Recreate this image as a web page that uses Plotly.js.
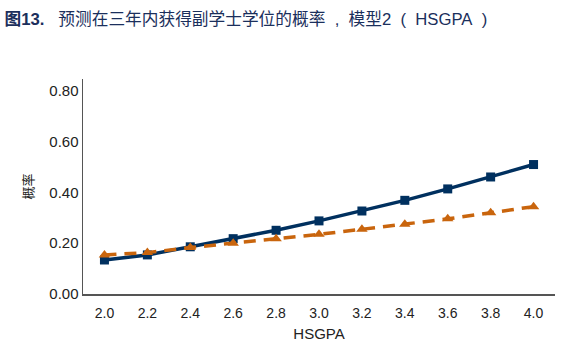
<!DOCTYPE html>
<html><head><meta charset="utf-8">
<script src="https://cdn.plot.ly/plotly-3.0.1.min.js"></script>
<style>html,body{margin:0;padding:0;background:#fff}#chart{width:572px;height:355px}</style>
</head><body><div id="chart"></div>
<script>
const categories = ["2.0","2.2","2.4","2.6","2.8","3.0","3.2","3.4","3.6","3.8","4.0"];
const seriesSolid = [0.134,0.154,0.186,0.218,0.251,0.288,0.327,0.369,0.414,0.461,0.510];
const seriesDashed = [0.154,0.163,0.183,0.200,0.218,0.235,0.255,0.275,0.296,0.320,0.344];
const yTicks = [0,0.2,0.4,0.6,0.8];
const yTickLabels = ["0.00","0.20","0.40","0.60","0.80"];

const navy = "#00305f", orange = "#c9650d";
const fam = "Liberation Sans, Arial, Noto Sans CJK SC, sans-serif";
const sp = "\u00a0";
const titleText = "<b>图13.</b>" + sp + sp + sp + "预测在三年内获得副学士学位的概率" + sp + sp + "," + sp + sp +
                  "模型2" + sp + sp + "(" + sp + sp + "HSGPA" + sp + sp + ")";
const traces = [
  {x: categories, y: seriesSolid, type: "scatter", mode: "lines+markers",
   line: {color: navy, width: 3.5}, marker: {symbol: "square", size: 9, color: navy}, cliponaxis: false},
  {x: categories, y: seriesDashed, type: "scatter", mode: "lines+markers",
   line: {color: orange, width: 3.5, dash: "12px,8px"}, marker: {symbol: "triangle-up", size: 10, color: orange}, cliponaxis: false}
];
const layout = {
  width: 572, height: 355,
  margin: {l: 83, r: 17, t: 79, b: 61},
  paper_bgcolor: "#fff", plot_bgcolor: "#fff",
  showlegend: false,
  font: {family: fam, color: "#222", size: 14},
  title: {text: titleText,
          x: 0.008, xref: "container", xanchor: "left", y: 0.947, yref: "container", yanchor: "middle",
          font: {family: "Liberation Sans, Noto Sans CJK SC, sans-serif", size: 16.7, color: "#1b2f5c"}},
  xaxis: {type: "category", range: [-0.5, 10.5], showgrid: false, zeroline: false,
          showline: true, linecolor: "#555", linewidth: 1.5, ticks: "",
          tickfont: {size: 14, color: "#222"}, ticklabelstandoff: 6,
          title: {text: "HSGPA", font: {size: 15, color: "#222"}, standoff: 8}},
  yaxis: {range: [0, 0.847], tickvals: yTicks, ticktext: yTickLabels, showgrid: false, zeroline: false,
          showline: true, linecolor: "#555", linewidth: 1.5, ticks: "",
          tickfont: {size: 15, color: "#222"},
          title: {text: "概率", font: {family: "Noto Sans CJK SC, sans-serif", size: 13, color: "#222"}, standoff: 12}}
};
Plotly.newPlot("chart", traces, layout, {displayModeBar: false, staticPlot: true});
</script></body></html>
